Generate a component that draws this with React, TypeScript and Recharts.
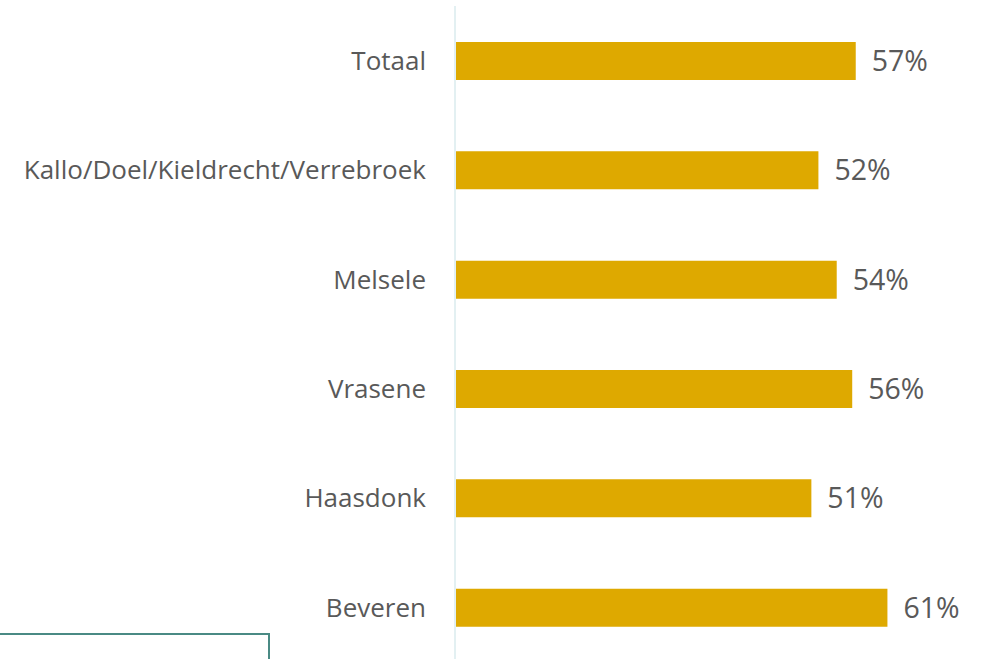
import { BarChart, Bar, XAxis, YAxis, LabelList } from 'recharts'

const CATEGORIES = ['Totaal', 'Kallo/Doel/Kieldrecht/Verrebroek', 'Melsele', 'Vrasene', 'Haasdonk', 'Beveren']
const VALUES = [56.9, 51.6, 54.2, 56.4, 50.6, 61.4]

const data = CATEGORIES.map((name, i) => ({ name, value: VALUES[i] }))

const FONT = '"Open Sans", sans-serif'
const TEXT = '#595959'

export default function App() {
  return (
    <div style={{ position: 'absolute', left: 0, top: 0, width: 990, height: 659, overflow: 'hidden', background: '#fff' }}>
      <BarChart
        width={990}
        height={662}
        data={data}
        layout="vertical"
        margin={{ top: 6, right: 42, bottom: 0, left: 0 }}
      >
        <XAxis type="number" domain={[0, 70]} hide />
        <YAxis
          type="category"
          dataKey="name"
          width={455}
          axisLine={{ stroke: '#E3F0F2', strokeWidth: 2 }}
          tickLine={false}
          tickMargin={23}
          tick={{ fontSize: 26, fill: TEXT, fontFamily: FONT }}
        />
        <Bar dataKey="value" fill="#DEA900" barSize={38} isAnimationActive={false}>
          <LabelList
            dataKey="value"
            position="right"
            offset={16}
            formatter={(v: any) => `${Math.round(Number(v))}%`}
            style={{ fontSize: 28.5, fill: TEXT, fontFamily: FONT }}
          />
        </Bar>
      </BarChart>
      <div
        style={{
          position: 'absolute',
          left: 0,
          top: 633,
          width: 268,
          height: 40,
          borderTop: '2px solid #4A8A84',
          borderRight: '2px solid #4A8A84',
        }}
      />
    </div>
  )
}
